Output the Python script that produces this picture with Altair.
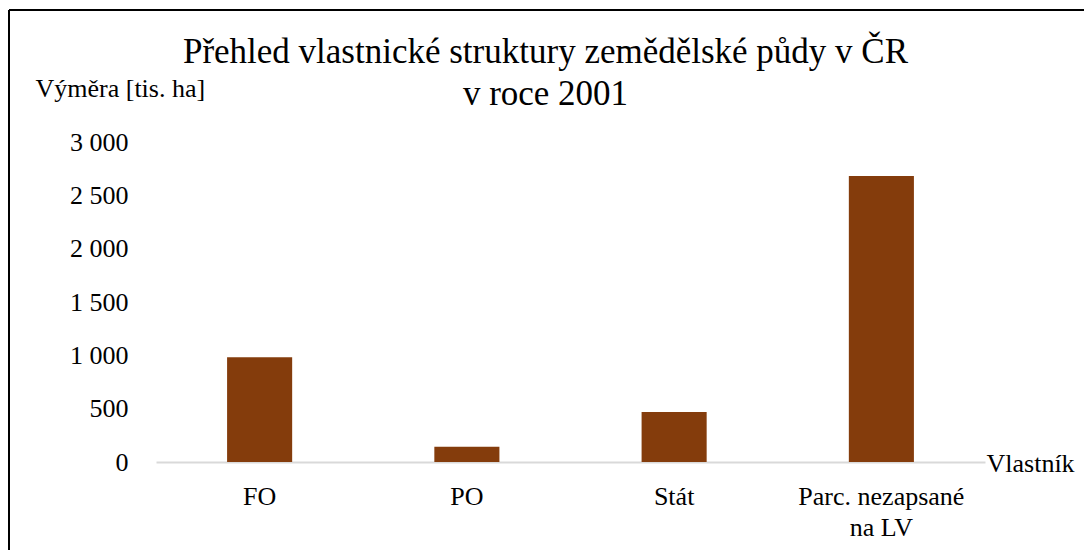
import altair as alt
import pandas as pd

categories = ["FO", "PO", "Stát", "Parc. nezapsané\nna LV"]
values = [982, 144, 469, 2681]
y_ticks = [0, 500, 1000, 1500, 2000, 2500, 3000]

title_lines = ["Přehled vlastnické struktury zemědělské půdy v ČR", "v roce 2001"]
y_title = "Výměra [tis. ha]"
x_title = "Vlastník"

df = pd.DataFrame({"cat": categories, "val": values})

FONT = "Liberation Serif"

bars = alt.Chart(df).mark_bar(color="#843C0C").encode(
    x=alt.X(
        "cat:N",
        sort=categories,
        scale=alt.Scale(paddingInner=0.686, paddingOuter=0.343),
        axis=alt.Axis(
            title=x_title,
            titleX=830,
            titleY=1,
            titleAlign="left",
            titleBaseline="middle",
            titleFont=FONT,
            titleFontSize=26,
            titleFontWeight="normal",
            titleColor="#000000",
            labelFont=FONT,
            labelFontSize=26,
            labelColor="#000000",
            labelAngle=0,
            labelPadding=21,
            labelLineHeight=31,
            labelExpr="split(datum.label, '\\n')",
            ticks=False,
            domainColor="#D9D9D9",
            domainWidth=2,
            grid=False,
        ),
    ),
    y=alt.Y(
        "val:Q",
        scale=alt.Scale(domain=[0, 3000], nice=False),
        axis=alt.Axis(
            title=y_title,
            titleAngle=0,
            titleX=-121,
            titleY=-54,
            titleAlign="left",
            titleBaseline="middle",
            titleFont=FONT,
            titleFontSize=26,
            titleFontWeight="normal",
            titleColor="#000000",
            values=y_ticks,
            labelExpr="replace(format(datum.value, ','), ',', ' ')",
            labelFont=FONT,
            labelFontSize=26,
            labelColor="#000000",
            labelPadding=28,
            ticks=False,
            domain=False,
            grid=False,
        ),
    ),
)

one = pd.DataFrame({"a": [0]})
top_edge = alt.Chart(one).mark_rule(color="#000000", strokeWidth=2).encode(
    x=alt.value(-147), x2=alt.value(1200), y=alt.value(-132)
)
left_edge = alt.Chart(one).mark_rule(color="#000000", strokeWidth=2).encode(
    x=alt.value(-147), y=alt.value(-132), y2=alt.value(700)
)

chart = alt.layer(top_edge, left_edge, bars).properties(
    width=829,
    height=320,
    background="#ffffff",
    autosize=alt.AutoSizeParams(type="none"),
    padding={"left": 148, "top": 134, "right": 99, "bottom": 88},
    title=alt.TitleParams(
        text=title_lines,
        anchor="middle",
        frame="group",
        font=FONT,
        fontSize=35,
        fontWeight="normal",
        color="#000000",
        lineHeight=42,
        dx=-25,
        dy=107,
    ),
).configure_view(strokeWidth=0)

chart.save("out.html", embed_options={"renderer": "svg", "actions": False})
